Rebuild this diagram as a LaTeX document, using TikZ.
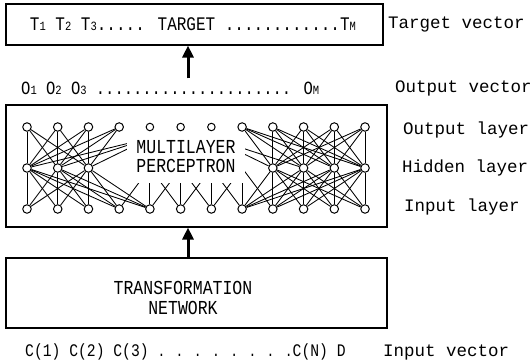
\documentclass[tikz,border=0pt]{standalone}
\usepackage{fontspec}
\setmainfont{Liberation Mono}
\usetikzlibrary{arrows.meta,calc}
\newcommand\lsub[1]{{\fontsize{10.5}{10.5}\selectfont #1}}
\newcommand\tall[1]{\scalebox{1}[1.2]{#1}}
\pgfdeclarelayer{bg}
\pgfsetlayers{bg,main}
\begin{document}
\begin{tikzpicture}[x=1pt,y=-1pt,
  box/.style={draw, line width=1.1pt, inner sep=0pt},
  neuron/.style={circle, draw, line width=1pt, fill=white, minimum size=8.5pt, inner sep=0pt},
  smallneuron/.style={neuron, minimum size=7.5pt},
  edge/.style={line width=0.85pt},
  bigarrow/.style={line width=3pt, -{Triangle[length=12pt,width=11pt]}},
  lbl/.style={anchor=west, inner sep=0pt, font=\fontsize{17.5}{19}\selectfont},
  txt/.style={inner sep=0pt, font=\fontsize{16.5}{20}\selectfont}]
\useasboundingbox (0,0) rectangle (531,362);

% boxes
\node[box, minimum width=377pt, minimum height=41pt] (tgt) at (194.5,24.5) {};
\node[box, minimum width=381pt, minimum height=122pt] (mlp) at (196.5,166) {};
\node[box, minimum width=381pt, minimum height=70pt] (trn) at (196.5,293) {};

% texts
\node[inner sep=0pt, font=\fontsize{16}{20}\selectfont] (ttext) at (193,24)
  {\tall{T\lsub{1} T\lsub{2} T\lsub{3}..... TARGET ............T\lsub{M}}};
\node[anchor=west, inner sep=0pt, font=\fontsize{15.5}{18}\selectfont] (orow) at (21,88)
  {\tall{O\lsub{1} O\lsub{2} O\lsub{3} ..................... O\lsub{M}}};
\node[txt, align=center] (trntext) at (183,298) {\tall{TRANSFORMATION}\\\tall{NETWORK}};
\node[anchor=west, inner sep=0pt, font=\fontsize{14.7}{18}\selectfont] (crow) at (25,352)
  {\tall{C(1) C(2) C(3) {\fontsize{13}{13}\selectfont. . . . . . . .}C(N) D}};

% labels
\node[lbl] (l1) at (388,24) {Target vector};
\node[lbl] (l2) at (395,88) {Output vector};
\node[lbl] (l3) at (403,130) {Output layer};
\node[lbl] (l4) at (402,168) {Hidden layer};
\node[lbl] (l5) at (404,207) {Input layer};
\node[lbl] (l6) at (383,352) {Input vector};

% neurons
\foreach \i in {0,1,2,3,7,8,9,10,11} {
  \node[neuron] (o\i) at ({27+30.73*\i},127) {};
}
\foreach \i in {4,5,6} {
  \node[smallneuron] (o\i) at ({27+30.73*\i},127) {};
}
\foreach \i in {0,...,11} {
  \node[neuron] (n\i) at ({27+30.73*\i},209) {};
}
\foreach \i in {0,1,2,8,9,10,11} {
  \node[neuron] (h\i) at ({27+30.73*\i},168) {};
}
\foreach \i in {4,...,7} {
  \coordinate (h\i) at ({27+30.73*\i},168);
}
\coordinate (t4) at ({27+30.73*4},138);
\coordinate (t6) at ({27+30.73*6},138);

\begin{pgfonlayer}{bg}
  % left block
  \foreach \o in {0,...,3} \foreach \h in {0,1,2} \draw[edge] (o\o) -- (h\h);
  \foreach \h in {0,1,2} \foreach \n in {0,...,4} \draw[edge] (h\h) -- (n\n);
  \foreach \h in {0,1,2} \draw[edge] (h\h) -- (t4);
  % right block
  \foreach \o in {7,...,11} \foreach \h in {8,...,11} \draw[edge] (o\o) -- (h\h);
  \foreach \h in {8,...,11} \foreach \n in {7,...,11} \draw[edge] (h\h) -- (n\n);
  \foreach \h in {8,9} \draw[edge] (h\h) -- (t6);
  % middle (hidden under the label)
  \foreach \h [evaluate=\h as \a using int(\h-1), evaluate=\h as \b using int(\h+1)] in {4,...,7} {
    \draw[edge] (h\h) -- (n\a);
    \draw[edge] (h\h) -- (n\h);
    \draw[edge] (h\h) -- (n\b);
  }
  % label with white mask
  \node[fill=white, minimum width=118pt, minimum height=53pt, inner sep=0pt,
        font=\fontsize{16.5}{19.5}\selectfont, align=center] (mlptext) at (186,156.5)
        {\tall{MULTILAYER}\\\tall{PERCEPTRON}};
\end{pgfonlayer}

% arrows
\coordinate (ax) at (188,0);
\draw[bigarrow] ($(orow.north -| ax)+(0,-3)$) -- (tgt.south -| ax);
\draw[bigarrow] (trn.north -| ax) -- (mlp.south -| ax);
\end{tikzpicture}
\end{document}
